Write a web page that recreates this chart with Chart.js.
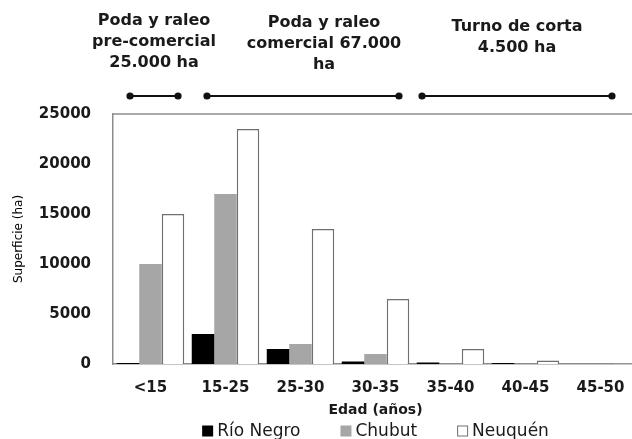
<!DOCTYPE html>
<html>
<head>
<meta charset="utf-8">
<script src="https://cdn.jsdelivr.net/npm/chart.js@4.4.1/dist/chart.umd.min.js"></script>
<style>
  html, body { margin: 0; padding: 0; background: #fff; overflow: hidden; }
  #wrap { width: 640px; height: 439px; position: relative; }
  canvas { display: block; }
</style>
</head>
<body>
<div id="wrap"><canvas id="c" width="640" height="439"></canvas></div>
<script>
// ---- data ----
const categories = ['<15', '15-25', '25-30', '30-35', '35-40', '40-45', '45-50'];
const seriesNames = ['Río Negro', 'Chubut', 'Neuquén'];
const rioNegro = [100, 3000, 1500, 250, 150, 100, 0];
const chubut   = [10000, 17000, 2000, 1000, 0, 0, 0];
const neuquen  = [15000, 23500, 13500, 6500, 1500, 350, 50];
const yTicks   = [0, 5000, 10000, 15000, 20000, 25000];
const yTitle = 'Superficie (ha)';
const xTitle = 'Edad (años)';
// phase annotations: start/end in category-index units, label centre, label lines
const phaseStart  = [-0.273, 0.753, 3.62];
const phaseEnd    = [0.367, 3.313, 6.153];
const phaseCenter = [0.047, 2.313, 4.887];
const phaseLabels = [
  ['Poda y raleo', 'pre-comercial', '25.000 ha'],
  ['Poda y raleo', 'comercial 67.000', 'ha'],
  ['Turno de corta', '4.500 ha']
];

const FONT = "'DejaVu Sans', sans-serif";
const TXT = '#1a1a1a';

const framePlugin = {
  id: 'frame',
  beforeDatasetsDraw(chart) {
    const { ctx, chartArea } = chart;
    ctx.save();
    ctx.strokeStyle = '#8c8c8c';
    ctx.lineWidth = 1.5;
    ctx.beginPath();
    ctx.moveTo(chartArea.left, chartArea.top);
    ctx.lineTo(chartArea.right + 5, chartArea.top);
    ctx.stroke();
    ctx.restore();
  }
};

const phasePlugin = {
  id: 'phases',
  afterDraw(chart) {
    const { ctx } = chart;
    const xs = chart.scales.x;
    const lineY = 96;
    const baseY = [25, 27, 31];
    ctx.save();
    ctx.strokeStyle = '#111';
    ctx.fillStyle = '#111';
    ctx.lineWidth = 2;
    for (let i = 0; i < phaseStart.length; i++) {
      const x0 = xs.getPixelForValue(phaseStart[i]);
      const x1 = xs.getPixelForValue(phaseEnd[i]);
      ctx.beginPath();
      ctx.moveTo(x0, lineY);
      ctx.lineTo(x1, lineY);
      ctx.stroke();
      [x0, x1].forEach(x => {
        ctx.beginPath();
        ctx.arc(x, lineY, 3.6, 0, Math.PI * 2);
        ctx.fill();
      });
    }
    ctx.font = 'bold 16px ' + FONT;
    ctx.textAlign = 'center';
    ctx.textBaseline = 'alphabetic';
    ctx.fillStyle = TXT;
    for (let i = 0; i < phaseLabels.length; i++) {
      const cx = xs.getPixelForValue(phaseCenter[i]);
      phaseLabels[i].forEach((t, j) => ctx.fillText(t, cx, baseY[i] + j * 21));
    }
    ctx.restore();
  }
};

const legendPlugin = {
  id: 'customLegend',
  afterDraw(chart) {
    const { ctx, chartArea } = chart;
    const ds = chart.data.datasets;
    const box = 11, gapText = 4, gapItem = 40;
    const y = 431;
    ctx.save();
    ctx.font = '17px ' + FONT;
    const widths = ds.map(d => box + gapText + ctx.measureText(d.label).width);
    const total = widths.reduce((a, b) => a + b, 0) + gapItem * (ds.length - 1);
    let x = (chartArea.left + chartArea.right) / 2 - total / 2;
    ds.forEach((d, i) => {
      ctx.fillStyle = d.backgroundColor;
      ctx.fillRect(x, y - box / 2, box, box);
      if (d.borderWidth) {
        ctx.strokeStyle = d.borderColor;
        ctx.lineWidth = 1;
        ctx.strokeRect(x + 0.5, y - box / 2 + 0.5, box - 1, box - 1);
      }
      ctx.fillStyle = TXT;
      ctx.textAlign = 'left';
      ctx.textBaseline = 'middle';
      ctx.fillText(d.label, x + box + gapText, y + 1);
      x += widths[i] + gapItem;
    });
    ctx.restore();
  }
};

new Chart(document.getElementById('c'), {
  type: 'bar',
  data: {
    labels: categories,
    datasets: [
      { label: seriesNames[0], data: rioNegro, backgroundColor: '#000000', borderWidth: 0 },
      { label: seriesNames[1], data: chubut, backgroundColor: '#a6a6a6', borderWidth: 0 },
      { label: seriesNames[2], data: neuquen, backgroundColor: '#ffffff', borderColor: '#707070', borderWidth: 1.5 }
    ]
  },
  options: {
    responsive: false,
    animation: false,
    devicePixelRatio: 1,
    layout: { padding: { top: 114, left: 9, right: 2, bottom: 20 } },
    datasets: { bar: { categoryPercentage: 0.9, barPercentage: 1.0 } },
    plugins: { legend: { display: false }, tooltip: { enabled: false } },
    scales: {
      x: {
        grid: { display: false, drawTicks: false },
        border: { display: true, color: '#8c8c8c', width: 1.5 },
        ticks: { color: TXT, font: { family: FONT, size: 15, weight: 'bold' }, padding: 15, maxRotation: 0, autoSkip: false },
        title: { display: true, text: xTitle, color: TXT, font: { family: FONT, size: 14, weight: 'bold' }, padding: { top: 0, bottom: 0 } },
        afterFit(s) { s.height = 55; }
      },
      y: {
        min: 0, max: 25000,
        grid: { display: false, drawTicks: false },
        border: { display: true, color: '#8c8c8c', width: 1.5 },
        afterBuildTicks(s) { s.ticks = yTicks.map(v => ({ value: v })); },
        ticks: { color: TXT, font: { family: FONT, size: 15, weight: 'bold' }, padding: 22, callback: v => String(v) },
        title: { display: true, text: yTitle, color: '#000', font: { family: FONT, size: 12 }, padding: { top: 3, bottom: 4 } },
        afterFit(s) { s.width = 104; }
      }
    }
  },
  plugins: [framePlugin, phasePlugin, legendPlugin]
});
</script>
</body>
</html>
